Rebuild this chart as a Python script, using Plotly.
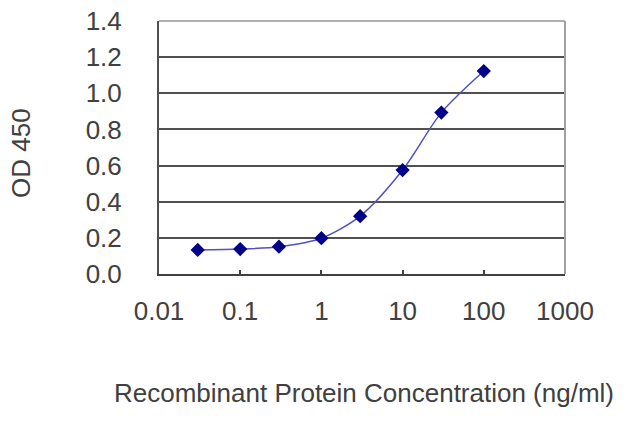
import plotly.graph_objects as go

conc = [0.03, 0.1, 0.3, 1, 3, 10, 30, 100]
od450 = [0.133, 0.138, 0.151, 0.198, 0.32, 0.575, 0.893, 1.123]

x_tickvals = [0.01, 0.1, 1, 10, 100, 1000]
x_ticktext = ["0.01", "0.1", "1", "10", "100", "1000"]
y_tickvals = [0.0, 0.2, 0.4, 0.6, 0.8, 1.0, 1.2, 1.4]
y_ticktext = ["0.0", "0.2", "0.4", "0.6", "0.8", "1.0", "1.2", "1.4"]

FONT = "Liberation Sans, Arial, sans-serif"

fig = go.Figure()
fig.add_trace(go.Scatter(
    x=conc, y=od450, mode="lines+markers",
    line=dict(color="#5050c8", width=1.5, shape="spline", smoothing=0.8),
    marker=dict(symbol="diamond", size=11, color="#00008b", line=dict(width=0)),
    showlegend=False,
))

fig.update_layout(
    width=640, height=427,
    margin=dict(l=159, r=75, t=21, b=153),
    paper_bgcolor="white", plot_bgcolor="white",
    font=dict(family=FONT, size=26, color="#404040"),
    xaxis=dict(
        type="log", range=[-2, 3],
        tickvals=x_tickvals, ticktext=x_ticktext,
        showgrid=False, zeroline=False,
        showline=True, linecolor="#404040", linewidth=2,
        ticks="inside", ticklen=4, tickcolor="#404040", tickwidth=1.5,
        ticklabelstandoff=13,
        automargin=False,
    ),
    yaxis=dict(
        range=[0, 1.4],
        tickvals=y_tickvals, ticktext=y_ticktext,
        showgrid=True, gridcolor="#505050", gridwidth=2,
        zeroline=False,
        showline=True, linecolor="#505050", linewidth=2,
        ticks="", ticklabelstandoff=30,
        automargin=False,
    ),
    shapes=[
        dict(type="line", xref="paper", yref="paper", x0=0, x1=1, y0=1, y1=1,
             line=dict(color="#b0b0b0", width=2)),
        dict(type="line", xref="paper", yref="paper", x0=1, x1=1, y0=0, y1=1,
             line=dict(color="#a0a0a0", width=2)),
    ],
    annotations=[
        dict(text="Recombinant Protein Concentration (ng/ml)", xref="paper", yref="paper",
             x=(363.5 - 159) / 406, y=-(393 - 274) / 253, xanchor="center", yanchor="middle",
             showarrow=False, font=dict(family=FONT, size=26, color="#404040")),
        dict(text="OD 450", xref="paper", yref="paper",
             x=-(159 - 21) / 406, y=(274 - 153) / 253, xanchor="center", yanchor="middle",
             textangle=-90, showarrow=False, font=dict(family=FONT, size=26, color="#404040")),
    ],
)

fig.write_html("out.html", config={"displayModeBar": False},
               post_script="document.body.style.margin='0';")
